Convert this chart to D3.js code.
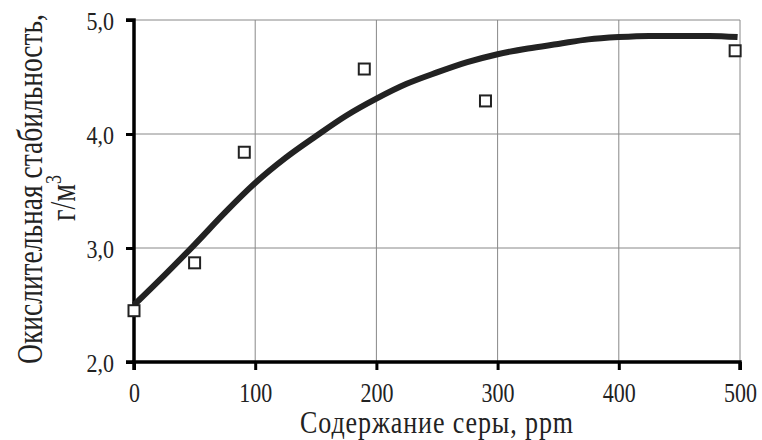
<!DOCTYPE html>
<html><head><meta charset="utf-8">
<script src="https://cdn.jsdelivr.net/npm/d3@7"></script>
<style>body{margin:0;background:#fff}svg{display:block}text{font-family:"Liberation Serif","Times New Roman",serif;fill:#222}</style>
</head><body>
<svg id="c" width="762" height="440"></svg>
<script>
const pointX = [0, 50, 91, 190, 290, 496];
const pointY = [2.45, 2.87, 3.84, 4.57, 4.29, 4.73];
const curveX = [0,25,50,75,100,125,150,175,200,225,250,275,300,325,350,375,400,425,450,475,498];
const curveY = [2.50,2.76,3.03,3.31,3.57,3.79,3.98,4.16,4.31,4.44,4.54,4.63,4.70,4.75,4.79,4.83,4.85,4.86,4.86,4.86,4.85];
const xTicks = [0,100,200,300,400,500];
const yTicks = [2,3,4,5];
const xTitle = "Содержание серы, ppm";
const yTitle1 = "Окислительная стабильность,";

const svg = d3.select("#c");
const x = d3.scaleLinear().domain([0,500]).range([134,740]);
const y = d3.scaleLinear().domain([2,5]).range([362,20]);
const TS = 1.12, STRETCH = 1.22, YS = 1.3;

// grid
svg.append("g").selectAll("line").data(xTicks.slice(1)).join("line")
  .attr("x1",d=>x(d)).attr("x2",d=>x(d)).attr("y1",y(2)).attr("y2",y(5))
  .attr("stroke","#888").attr("stroke-width",1);
svg.append("g").selectAll("line").data(yTicks.slice(1)).join("line")
  .attr("x1",x(0)).attr("x2",x(500)).attr("y1",d=>y(d)).attr("y2",d=>y(d))
  .attr("stroke","#888").attr("stroke-width",1);

// axes
const fmt = d=>d3.format(".1f")(d).replace(".",",");
const ya = svg.append("g").attr("transform",`translate(${x(0)},0)`)
  .call(d3.axisLeft(y).tickValues(yTicks).tickSize(8).tickFormat(fmt));
const xa = svg.append("g").attr("transform",`translate(0,${y(2)})`)
  .call(d3.axisBottom(x).tickValues(xTicks).tickSize(8).tickFormat(d3.format("d")));
[ya,xa].forEach(a=>{
  a.select(".domain").attr("stroke","#000").attr("stroke-width",3.5);
  a.selectAll(".tick line").attr("stroke","#000").attr("stroke-width",3);
  a.selectAll(".tick text").attr("font-size",22).attr("font-family","Liberation Serif").attr("fill","#222")
    .attr("x",0).attr("y",0).attr("dy",null);
});
ya.selectAll(".tick text").attr("text-anchor","end").attr("transform",`translate(-20,9) scale(1,${TS})`);
xa.selectAll(".tick text").attr("text-anchor","middle").attr("transform",`translate(0,40) scale(1,${TS+0.08})`);
ya.select(".domain").attr("d",`M-8,${y(5)}H0V${y(2)}H-8`);
xa.select(".domain").attr("d",`M${x(0)},8V0H${x(500)}V8`);

// curve
const line = d3.line().x(d=>x(d[0])).y(d=>y(d[1])).curve(d3.curveMonotoneX);
svg.append("path").datum(curveX.map((v,i)=>[v,curveY[i]]))
  .attr("d",line).attr("fill","none").attr("stroke","#222").attr("stroke-width",6).attr("stroke-linecap","butt");

// points
svg.append("g").selectAll("rect").data(pointX.map((v,i)=>[v,pointY[i]])).join("rect")
  .attr("x",d=>x(d[0])-5.5).attr("y",d=>y(d[1])-5.5).attr("width",11).attr("height",11)
  .attr("fill","#fff").attr("stroke","#222").attr("stroke-width",2);

// titles
svg.append("text").attr("transform",`translate(437,433) scale(1,${STRETCH})`).attr("text-anchor","middle")
  .attr("font-size",26).attr("letter-spacing",0.9).text(xTitle);
svg.append("text").attr("transform",`translate(42,189) rotate(-90) scale(1,${YS})`).attr("text-anchor","middle")
  .attr("font-size",27.5).text(yTitle1);
const y2 = svg.append("text").attr("transform",`translate(75,198) rotate(-90) scale(1,${YS})`).attr("text-anchor","middle").attr("font-size",28);
y2.append("tspan").text("г/м");
y2.append("tspan").attr("dy",-11).attr("font-size",18).text("3");
</script>
</body></html>
